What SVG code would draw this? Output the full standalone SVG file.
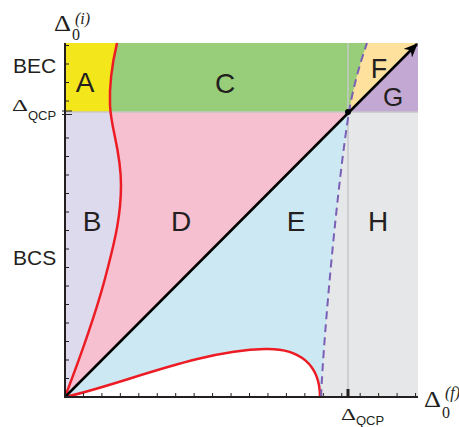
<svg xmlns="http://www.w3.org/2000/svg" width="459" height="427" viewBox="0 0 459 427">
  <style>
    .lbl { font-family: "Liberation Sans", Arial, sans-serif; font-size: 28px; fill: #231f20; text-anchor: middle; }
    .side { font-family: "Liberation Sans", Arial, sans-serif; font-size: 21px; fill: #231f20; }
    .sub { font-family: "Liberation Sans", Arial, sans-serif; font-size: 13px; fill: #231f20; }
    .greek { font-family: "Liberation Serif", "Times New Roman", serif; fill: #231f20; }
    .red { fill: none; stroke: #ed1c24; stroke-width: 2.5; }
    .dash { fill: none; stroke: #7a5fb6; stroke-width: 2; stroke-dasharray: 8 5; }
    .guide { stroke: #c6c7c9; stroke-width: 1.5; fill: none; }
    .axis { stroke: #231f20; stroke-width: 2; fill: none; }
    .tick { stroke: #231f20; stroke-width: 1; fill: none; }
  </style>
  <defs>
    <clipPath id="top"><rect x="65" y="43" width="353" height="69"/></clipPath>
    <clipPath id="bot"><rect x="65" y="112" width="353" height="285"/></clipPath>
    <path id="leftOfL" d="M65,397 C75,370 95,320 108,267 C115,240 121,215 121,185 C121,150 111,130 110,105 C109,80 113,60 117,43 L65,43 Z"/>
    <path id="rightOfD" d="M321,397 C324,330 338,180 349,112 C353,88 360,63 367,43 L418,43 L418,397 Z"/>
    <path id="belowDiag" d="M65,397 L418,43 L418,397 Z"/>
    <marker id="arrow" markerWidth="14" markerHeight="12" refX="13" refY="6" orient="auto" markerUnits="userSpaceOnUse">
      <path d="M0,0 L14,6 L0,12 L4,6 Z" fill="#000"/>
    </marker>
  </defs>

  <g id="regions-top" clip-path="url(#top)">
    <rect id="C-fill" x="65" y="43" width="353" height="69" fill="#98cd79"/>
    <use href="#rightOfD" fill="#fde19c"/>
    <use href="#belowDiag" fill="#c3a8d3"/>
    <use href="#leftOfL" fill="#f3e71b"/>
  </g>
  <g id="regions-bottom" clip-path="url(#bot)">
    <rect x="65" y="112" width="353" height="285" fill="#f6c0d0"/>
    <use href="#belowDiag" fill="#cce9f3"/>
    <use href="#rightOfD" fill="#e6e7e8"/>
    <use href="#leftOfL" fill="#dddaee"/>
    <path d="M65,397 C120,385 200,350 265,349 C300,348 320,365 320,397 Z" fill="#ffffff"/>
  </g>

  <g id="guides">
    <line class="guide" x1="348" y1="43" x2="348" y2="397"/>
    <line class="guide" x1="65" y1="112" x2="418" y2="112"/>
  </g>

  <g id="connectors">
    <path class="red" d="M65,397 C75,370 95,320 108,267 C115,240 121,215 121,185 C121,150 111,130 110,105 C109,80 113,60 117,43"/>
    <path class="red" d="M65,397 C120,385 200,350 265,349 C300,348 320,365 320,397"/>
    <path class="dash" d="M321,397 C324,330 338,180 349,112 C353,88 360,63 367,43"/>
    <line x1="65" y1="397" x2="417" y2="44" stroke="#000" stroke-width="2.5" marker-end="url(#arrow)"/>
    <circle cx="348" cy="112" r="3" fill="#000"/>
  </g>

  <g id="axes">
    <path class="axis" d="M65,43 L65,397 L418,397"/>
    <path class="tick" d="M83.45,397v-4M101.9,397v-4M120.35,397v-4M138.8,397v-4M157.25,397v-4M175.7,397v-4M194.15,397v-4M212.6,397v-4M231.05,397v-4M249.5,397v-4M267.95,397v-4M286.4,397v-4M304.85,397v-4M323.3,397v-4M341.75,397v-4M360.2,397v-4M378.65,397v-4M397.1,397v-4M415.55,397v-4"/>
    <path class="tick" d="M65,378.5h4M65,360h4M65,341.5h4M65,323h4M65,304.5h4M65,286h4M65,267.5h4M65,249h4M65,230.5h4M65,212h4M65,193.5h4M65,175h4M65,156.5h4M65,138h4M65,101h4M65,82.5h4M65,64h4M65,45.5h4"/>
    <path class="tick" d="M62,111h10M62,114.5h10" stroke-width="1.3"/>
    <line x1="348" y1="389" x2="348" y2="397" stroke="#231f20" stroke-width="3"/>
  </g>

  <g id="node-A"><text class="lbl" x="85" y="92">A</text></g>
  <g id="node-B"><text class="lbl" x="92" y="231">B</text></g>
  <g id="node-C"><text class="lbl" x="225" y="93">C</text></g>
  <g id="node-D"><text class="lbl" x="181" y="231">D</text></g>
  <g id="node-E"><text class="lbl" x="296" y="231">E</text></g>
  <g id="node-F"><text class="lbl" x="379" y="78" style="font-size:27px">F</text></g>
  <g id="node-G"><text class="lbl" x="393" y="106" style="font-size:26px">G</text></g>
  <g id="node-H"><text class="lbl" x="378" y="231">H</text></g>

  <g id="labels">
    <text class="side" x="13" y="73">BEC</text>
    <text class="side" x="13" y="265">BCS</text>
    <text class="greek" x="12" y="111" font-size="17" textLength="16" lengthAdjust="spacingAndGlyphs">Δ</text>
    <text class="sub" x="28" y="120">QCP</text>
    <text class="greek" x="341" y="420" font-size="17" textLength="15" lengthAdjust="spacingAndGlyphs">Δ</text>
    <text class="sub" x="356" y="425">QCP</text>
    <text class="greek" x="54" y="31" font-size="23" textLength="17" lengthAdjust="spacingAndGlyphs">Δ</text>
    <text class="greek" x="72" y="40" font-size="16">0</text>
    <text class="greek" x="75" y="24" font-size="16" font-style="italic">(i)</text>
    <text class="greek" x="424" y="407" font-size="23" textLength="17" lengthAdjust="spacingAndGlyphs">Δ</text>
    <text class="greek" x="442" y="418" font-size="16">0</text>
    <text class="greek" x="445" y="398" font-size="16" font-style="italic">(f)</text>
  </g>
</svg>
